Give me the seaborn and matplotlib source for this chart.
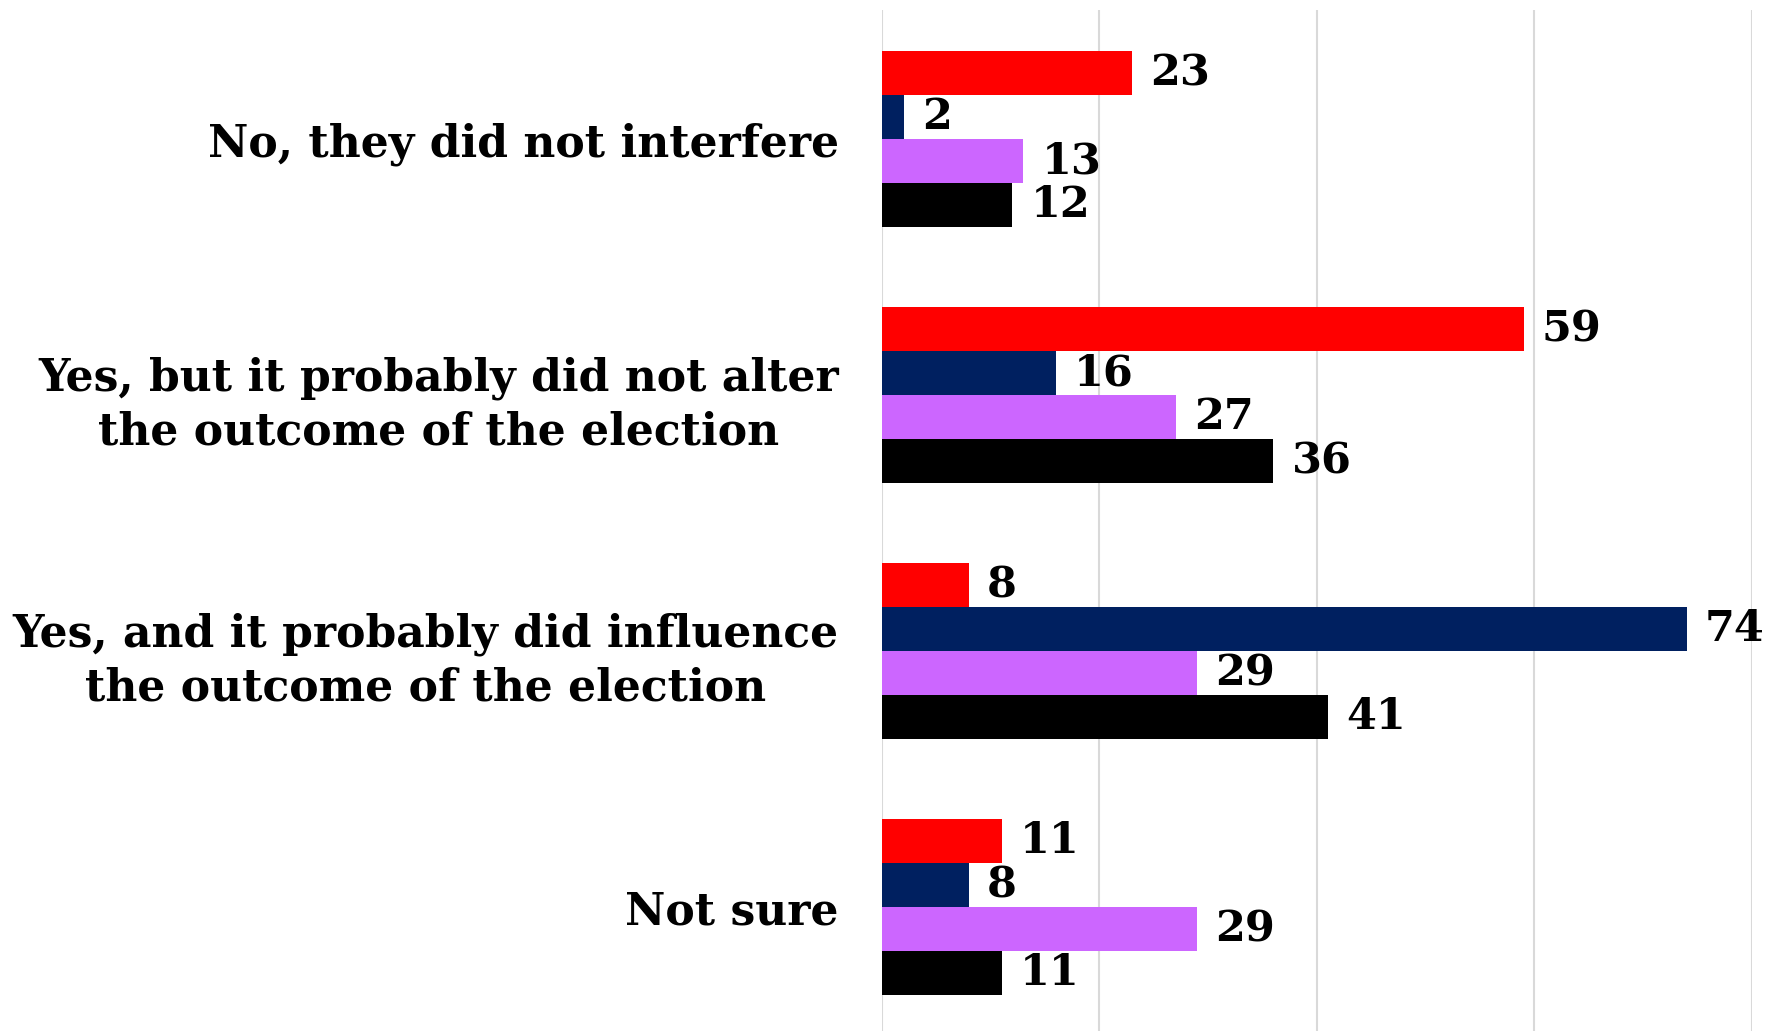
import pandas as pd
import seaborn as sns
import matplotlib.pyplot as plt

# survey answers and the four groups
answers = ['No, they did not interfere',
           'Yes, but it probably did not alter\nthe outcome of the election',
           'Yes, and it probably did influence\nthe outcome of the election',
           'Not sure']
groups = ['Republicans', 'Democrats', 'Independents', 'All voters']
colors = ['#FF0000', '#002060', '#CC66FF', '#000000']

republicans = [23, 59, 8, 11]
democrats = [2, 16, 74, 8]
independents = [13, 27, 29, 29]
all_voters = [12, 36, 41, 11]

rows = []
for g, vals in zip(groups, [republicans, democrats, independents, all_voters]):
    for a, v in zip(answers, vals):
        rows.append({'answer': a, 'group': g, 'value': v})
df = pd.DataFrame(rows)

sns.set_style('white')
plt.rcParams['font.family'] = ['DejaVu Serif']
plt.rcParams['font.weight'] = 'bold'

fig = plt.figure(figsize=(17.85, 10.31), dpi=100)
ax = fig.add_axes([0.4941, 0.0, 0.9815 - 0.4941, 0.9903])

sns.barplot(data=df, y='answer', x='value', hue='group', palette=colors,
            orient='h', width=0.6875, gap=0, saturation=1, legend=False,
            linewidth=0, ax=ax, errorbar=None)

for c in ax.containers:
    ax.bar_label(c, padding=13, fontsize=31, fontweight='bold', color='black')

ax.set_xlim(0, 80)
ax.set_ylim(3.484, -0.504)
ax.set_xticks([0, 20, 40, 60, 80])
ax.set_xticklabels([])
ax.grid(axis='x', color='#D9D9D9', linewidth=1.5)
ax.grid(axis='y', visible=False)
ax.set_axisbelow(True)
for s in ax.spines.values():
    s.set_visible(False)
ax.tick_params(axis='both', length=0)
ax.tick_params(axis='y', pad=31, labelcolor='black')
for t in ax.get_yticklabels():
    t.set_fontsize(31.8)
    t.set_fontweight('bold')
    t.set_multialignment('center')
    t.set_linespacing(1.32)
    t.set_color('black')
ax.set_xlabel('')
ax.set_ylabel('')

fig.savefig('out.png', dpi=100)
